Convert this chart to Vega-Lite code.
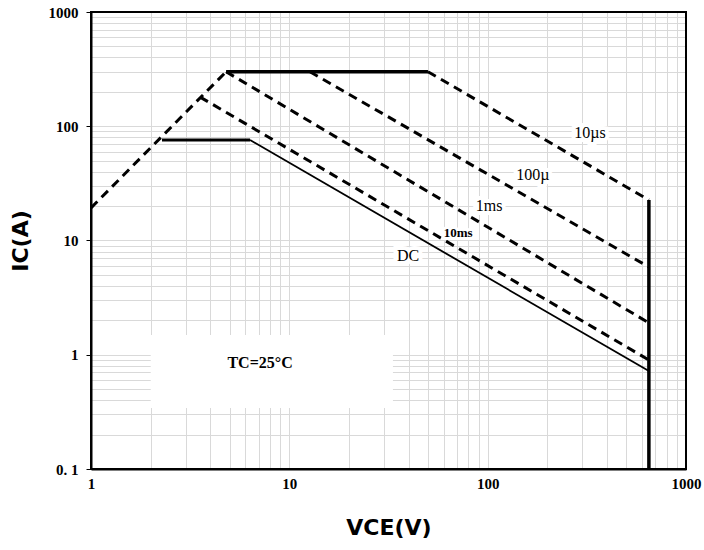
{
  "$schema": "https://vega.github.io/schema/vega-lite/v6.json",
  "width": 595,
  "height": 457,
  "autosize": "none",
  "padding": {"left": 91, "top": 12, "right": 18, "bottom": 81},
  "background": "white",
  "config": {
    "view": {"stroke": null},
    "axis": {"gridColor": "#d9d9d9", "gridWidth": 1, "domainColor": "black", "domainWidth": 2, "labelOverlap": false, "labelFlush": false, "labelBound": false}
  },
  "datasets": {
    "lines": [
      {"series": "rise", "o": 0, "x": 1, "y": 19.3},
      {"series": "rise", "o": 1, "x": 4.8, "y": 300},
      {"series": "top", "o": 0, "x": 4.8, "y": 300},
      {"series": "top", "o": 1, "x": 50, "y": 300},
      {"series": "us10", "o": 0, "x": 50, "y": 300},
      {"series": "us10", "o": 1, "x": 650, "y": 22.6},
      {"series": "us100", "o": 0, "x": 12.7, "y": 300},
      {"series": "us100", "o": 1, "x": 650, "y": 5.86},
      {"series": "ms1", "o": 0, "x": 4.8, "y": 300},
      {"series": "ms1", "o": 1, "x": 650, "y": 1.9},
      {"series": "ms10", "o": 0, "x": 3.55, "y": 180},
      {"series": "ms10", "o": 1, "x": 650, "y": 0.9},
      {"series": "dcflat", "o": 0, "x": 2.28, "y": 75.8},
      {"series": "dcflat", "o": 1, "x": 6.34, "y": 75.8},
      {"series": "dc", "o": 0, "x": 6.34, "y": 75.8},
      {"series": "dc", "o": 1, "x": 650, "y": 0.72},
      {"series": "vert", "o": 0, "x": 650, "y": 22.6},
      {"series": "vert", "o": 1, "x": 650, "y": 0.1}
    ],
    "labels": [
      {"kind": "plain", "label": "10µs", "x": 328, "y": 87.3},
      {"kind": "plain", "label": "100µ", "x": 169, "y": 37.4},
      {"kind": "plain", "label": "1ms", "x": 101.6, "y": 20},
      {"kind": "small", "label": "10ms", "x": 71, "y": 11.6},
      {"kind": "plain", "label": "DC", "x": 39.7, "y": 7.3},
      {"kind": "note", "label": "TC=25°C", "x": 7.12, "y": 0.847}
    ],
    "box": [
      {"x": 2.0, "x2": 33.3, "y": 1.49, "y2": 0.342}
    ],
    "frame": [
      {"x": 1, "x2": 1000, "y": 0.1, "y2": 1000}
    ]
  },
  "encoding": {
    "x": {
      "field": "x", "type": "quantitative",
      "scale": {"type": "log", "domain": [1, 1000], "nice": false},
      "axis": {
        "values": [1,2,3,4,5,6,7,8,9,10,20,30,40,50,60,70,80,90,100,200,300,400,500,600,700,800,900,1000],
        "labelExpr": "indexof([1,10,100,1000], datum.value) >= 0 ? format(datum.value, 'd') : ''",
        "labelFont": "Liberation Serif", "labelFontWeight": "bold", "labelFontSize": 15, "labelColor": "black",
        "ticks": false, "labelPadding": 7,
        "title": "VCE(V)", "titleFont": "DejaVu Sans", "titleFontWeight": "bold", "titleFontSize": 22, "titleColor": "black",
        "titlePadding": 26
      }
    },
    "y": {
      "field": "y", "type": "quantitative",
      "scale": {"type": "log", "domain": [0.1, 1000], "nice": false},
      "axis": {
        "values": [0.1,0.2,0.3,0.4,0.5,0.6,0.7,0.8,0.9,1,2,3,4,5,6,7,8,9,10,20,30,40,50,60,70,80,90,100,200,300,400,500,600,700,800,900,1000],
        "labelExpr": "datum.value == 0.1 ? '0. 1' : (indexof([1,10,100,1000], datum.value) >= 0 ? format(datum.value, 'd') : '')",
        "labelFont": "Liberation Serif", "labelFontWeight": "bold", "labelFontSize": 15, "labelColor": "black",
        "tickColor": "black", "tickSize": 5, "tickWidth": 1,
        "tickOpacity": {"condition": {"test": "indexof([0.1,1,10,100,1000], datum.value) >= 0", "value": 1}, "value": 0},
        "labelPadding": 8,
        "title": "IC(A)", "titleFont": "DejaVu Sans", "titleFontWeight": "bold", "titleFontSize": 22, "titleColor": "black",
        "titlePadding": 16
      }
    }
  },
  "layer": [
    {
      "data": {"name": "box"},
      "mark": {"type": "rect", "fill": "white"},
      "encoding": {"x2": {"field": "x2"}, "y2": {"field": "y2"}}
    },
    {
      "data": {"name": "frame"},
      "mark": {"type": "rect", "fill": null, "filled": false, "stroke": "black", "strokeWidth": 2},
      "encoding": {"x2": {"field": "x2"}, "y2": {"field": "y2"}}
    },
    {
      "data": {"name": "lines"},
      "transform": [{"filter": {"field": "series", "oneOf": ["rise", "us10", "us100", "ms1", "ms10"]}}],
      "mark": {"type": "line", "color": "black", "strokeWidth": 3, "strokeDash": [9, 6]},
      "encoding": {"detail": {"field": "series"}, "order": {"field": "o"}}
    },
    {
      "data": {"name": "lines"},
      "transform": [{"filter": {"field": "series", "oneOf": ["top", "vert"]}}],
      "mark": {"type": "line", "color": "black", "strokeWidth": 3.5},
      "encoding": {"detail": {"field": "series"}, "order": {"field": "o"}}
    },
    {
      "data": {"name": "lines"},
      "transform": [{"filter": {"field": "series", "oneOf": ["dcflat"]}}],
      "mark": {"type": "line", "color": "black", "strokeWidth": 3},
      "encoding": {"detail": {"field": "series"}, "order": {"field": "o"}}
    },
    {
      "data": {"name": "lines"},
      "transform": [{"filter": {"field": "series", "oneOf": ["dc"]}}],
      "mark": {"type": "line", "color": "black", "strokeWidth": 1.8},
      "encoding": {"detail": {"field": "series"}, "order": {"field": "o"}}
    },
    {
      "data": {"name": "labels"},
      "transform": [{"filter": {"field": "kind", "oneOf": ["plain"]}}],
      "mark": {"type": "text", "font": "Liberation Serif", "fontSize": 16, "fill": "white", "stroke": "white", "strokeWidth": 8},
      "encoding": {"text": {"field": "label"}}
    },
    {
      "data": {"name": "labels"},
      "transform": [{"filter": {"field": "kind", "oneOf": ["small"]}}],
      "mark": {"type": "text", "font": "Liberation Serif", "fontSize": 13, "fontWeight": "bold", "fill": "white", "stroke": "white", "strokeWidth": 6},
      "encoding": {"text": {"field": "label"}}
    },
    {
      "data": {"name": "labels"},
      "transform": [{"filter": {"field": "kind", "oneOf": ["plain"]}}],
      "mark": {"type": "text", "font": "Liberation Serif", "fontSize": 16, "color": "black"},
      "encoding": {"text": {"field": "label"}}
    },
    {
      "data": {"name": "labels"},
      "transform": [{"filter": {"field": "kind", "oneOf": ["small"]}}],
      "mark": {"type": "text", "font": "Liberation Serif", "fontSize": 13, "fontWeight": "bold", "color": "black"},
      "encoding": {"text": {"field": "label"}}
    },
    {
      "data": {"name": "labels"},
      "transform": [{"filter": {"field": "kind", "oneOf": ["note"]}}],
      "mark": {"type": "text", "font": "Liberation Serif", "fontSize": 16, "fontWeight": "bold", "color": "black"},
      "encoding": {"text": {"field": "label"}}
    }
  ]
}
